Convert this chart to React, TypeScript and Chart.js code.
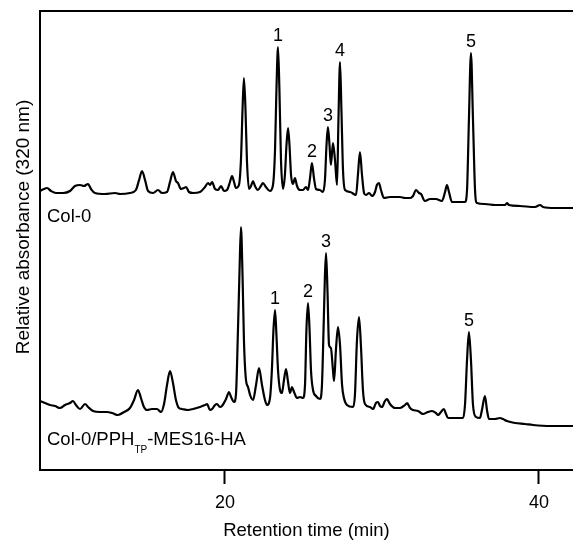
import React, { useEffect, useRef } from 'react';
import { Chart, registerables } from 'chart.js';

Chart.register(...registerables);

// Col-0 trace (retention time, min / relative absorbance, arbitrary units incl. offset)
const colTime = [
  8.22, 8.47, 8.67, 8.92, 9.24, 9.69, 10.13, 10.45, 10.77, 11.02, 11.28, 11.47, 11.72, 12.36, 13.0, 13.32, 13.95,
  14.33, 14.53, 14.72, 14.91, 15.1, 15.42, 15.74, 15.99, 16.31, 16.5, 16.69, 16.88, 17.01, 17.2, 17.39, 17.52, 17.71,
  17.97, 18.41, 18.73, 18.92, 19.05, 19.18, 19.37, 19.56, 19.75, 19.94, 20.13, 20.32, 20.45, 20.58, 20.7, 20.89,
  21.02, 21.12, 21.21, 21.31, 21.4, 21.53, 21.66, 21.79, 21.91, 22.1, 22.29, 22.42, 22.61, 22.87, 23.06, 23.19,
  23.28, 23.38, 23.47, 23.57, 23.7, 23.82, 23.92, 24.02, 24.11, 24.21, 24.33, 24.46, 24.59, 24.78, 24.97, 25.16,
  25.29, 25.42, 25.54, 25.67, 25.8, 26.05, 26.24, 26.37, 26.47, 26.56, 26.66, 26.75, 26.88, 27.01, 27.14, 27.23,
  27.33, 27.42, 27.52, 27.65, 27.97, 28.35, 28.47, 28.6, 28.73, 28.86, 28.98, 29.18, 29.37, 29.56, 29.68, 29.81,
  29.94, 30.13, 30.51, 31.15, 31.47, 31.79, 31.98, 32.17, 32.36, 32.49, 32.74, 33.06, 33.44, 33.82, 34.02, 34.14,
  34.27, 34.46, 34.97, 35.29, 35.42, 35.54, 35.67, 35.8, 35.93, 36.05, 36.56, 37.2, 37.84, 37.96, 38.09, 38.79,
  39.75, 40.07, 40.26, 41.02, 42.17,
];
const colAbs = [
  279, 281, 282, 279, 277, 277, 279, 284, 285, 284, 286, 281, 277, 276, 277, 276, 277,
  280, 290, 299, 290, 279, 277, 280, 277, 278, 288, 298, 289, 287, 281, 282, 283, 278,
  277, 278, 283, 287, 285, 288, 281, 280, 284, 279, 280, 288, 294, 288, 282, 285,
  310, 360, 392, 360, 310, 281, 284, 289, 284, 280, 284, 287, 283, 279, 285, 320,
  380, 423, 380, 310, 281, 295, 325, 342, 325, 295, 286, 292, 284, 280, 280, 283,
  280, 292, 307, 292, 281, 280, 278, 290, 325, 343, 325, 305, 327, 310, 285, 350,
  408, 360, 300, 280, 278, 275, 295, 318, 295, 277, 275, 277, 274, 278, 285, 287,
  280, 272, 273, 273, 272, 272, 274, 280, 277, 276, 269, 271, 271, 269, 278, 285,
  278, 268, 268, 268, 280, 350, 417, 350, 280, 267, 266, 265, 265, 267, 265, 264,
  263, 265, 263, 262, 262,
];

// Col-0/PPH_TP-MES16-HA trace
const mesTime = [
  8.22, 8.54, 8.86, 9.18, 9.49, 9.81, 10.13, 10.32, 10.51, 10.77, 11.09, 11.28, 11.6, 12.04, 12.49, 12.81, 13.19,
  13.57, 13.95, 14.21, 14.46, 14.65, 14.84, 15.04, 15.35, 15.67, 15.93, 16.12, 16.31, 16.5, 16.69, 16.88, 17.07,
  17.26, 17.65, 17.97, 18.41, 18.73, 18.86, 19.05, 19.18, 19.37, 19.49, 19.68, 19.81, 20.07, 20.26, 20.39, 20.58,
  20.7, 20.83, 20.93, 21.02, 21.12, 21.21, 21.34, 21.47, 21.6, 21.79, 21.98, 22.17, 22.36, 22.55, 22.68, 22.87,
  22.99, 23.09, 23.19, 23.28, 23.38, 23.51, 23.63, 23.76, 23.89, 24.02, 24.14, 24.27, 24.4, 24.59, 24.78, 24.97,
  25.1, 25.19, 25.29, 25.39, 25.48, 25.61, 25.8, 26.05, 26.18, 26.28, 26.37, 26.44, 26.53, 26.63, 26.75, 26.88,
  26.95, 27.07, 27.2, 27.33, 27.46, 27.58, 27.77, 28.16, 28.28, 28.41, 28.54, 28.66, 28.79, 28.92, 29.24, 29.43,
  29.62, 29.75, 29.88, 30.0, 30.19, 30.32, 30.51, 30.83, 31.15, 31.47, 31.6, 31.79, 31.98, 32.3, 32.61, 32.93,
  33.19, 33.44, 33.57, 33.76, 33.95, 34.08, 34.21, 34.65, 35.16, 35.29, 35.42, 35.54, 35.67, 35.8, 35.99, 36.24,
  36.37, 36.56, 36.69, 36.82, 37.2, 37.52, 37.71, 37.96, 38.47, 39.11, 39.62, 40.7, 42.17,
];
const mesAbs = [
  69, 67, 65, 64, 62, 65, 67, 69, 65, 61, 66, 63, 59, 58, 58, 57, 55,
  58, 62, 70, 80, 72, 63, 60, 61, 61, 58, 66, 85, 99, 87, 70, 62,
  61, 60, 61, 63, 65, 66, 60, 61, 65, 66, 63, 64, 71, 78, 73, 68,
  75, 140, 200, 243, 195, 130, 90, 83, 75, 70, 85, 102, 85, 70, 65, 72,
  100, 140, 160, 135, 100, 80, 77, 90, 101, 88, 77, 83, 78, 72, 73, 72,
  85, 140, 167, 140, 100, 80, 74, 71, 85, 140, 195, 217, 180, 125, 122, 100,
  89, 120, 143, 125, 85, 72, 65, 63, 75, 130, 153, 125, 80, 66, 63, 61,
  67, 68, 64, 63, 69, 71, 66, 62, 62, 65, 67, 62, 60, 59, 56, 58,
  59, 57, 55, 58, 61, 56, 52, 52, 52, 65, 110, 138, 110, 65, 53, 52,
  60, 74, 60, 51, 51, 52, 51, 49, 47, 46, 45, 44, 44,
];

const xTicks = [20, 40];
const colPeakLabels = ['1', '2', '3', '4', '5'];
const colPeakTimes = [23.38, 25.54, 26.56, 27.33, 35.67];
const mesPeakLabels = ['1', '2', '3', '5'];
const mesPeakTimes = [23.19, 25.29, 26.44, 35.54];

const FONT = '"Liberation Sans", Arial, Helvetica, sans-serif';

export default function App() {
  const ref = useRef<HTMLCanvasElement>(null);

  useEffect(() => {
    if (!ref.current) return;

    const annot = {
      id: 'annot',
      afterDatasetsDraw(chart: any) {
        const { ctx, chartArea, scales } = chart;
        const x = scales.x;
        const y = scales.y;
        ctx.save();
        // top frame line
        ctx.strokeStyle = '#000';
        ctx.lineWidth = 2;
        ctx.beginPath();
        ctx.moveTo(chartArea.left - 1, chartArea.top);
        ctx.lineTo(chartArea.right, chartArea.top);
        ctx.stroke();

        ctx.fillStyle = '#000';
        ctx.font = `18px ${FONT}`;
        ctx.textAlign = 'center';
        ctx.textBaseline = 'alphabetic';
        const drawPeaks = (labels: string[], times: number[], ts: number[], vs: number[]) => {
          labels.forEach((lab, i) => {
            let best = -Infinity;
            ts.forEach((t, j) => {
              if (Math.abs(t - times[i]) <= 0.15 && vs[j] > best) best = vs[j];
            });
            ctx.fillText(lab, x.getPixelForValue(times[i]), y.getPixelForValue(best) - 6);
          });
        };
        drawPeaks(colPeakLabels, colPeakTimes, colTime, colAbs);
        drawPeaks(mesPeakLabels, mesPeakTimes, mesTime, mesAbs);

        // trace names
        ctx.font = `18.5px ${FONT}`;
        ctx.textAlign = 'left';
        const lx = chartArea.left + 7;
        ctx.fillText('Col-0', lx, y.getPixelForValue(248));
        const by = y.getPixelForValue(25);
        const part1 = 'Col-0/PPH';
        ctx.fillText(part1, lx, by);
        let cx = lx + ctx.measureText(part1).width;
        ctx.font = `10px ${FONT}`;
        ctx.fillText('TP', cx, by + 8);
        cx += ctx.measureText('TP').width;
        ctx.font = `18.5px ${FONT}`;
        ctx.fillText('-MES16-HA', cx, by);

        // y axis title
        ctx.font = `19px ${FONT}`;
        ctx.textAlign = 'center';
        ctx.textBaseline = 'middle';
        ctx.translate(24, y.getPixelForValue(243));
        ctx.rotate(-Math.PI / 2);
        ctx.fillText('Relative absorbance (320 nm)', 0, 0);
        ctx.restore();
      },
    };

    const chart = new Chart(ref.current, {
      type: 'line',
      data: {
        datasets: [
          {
            label: 'Col-0',
            data: colTime.map((t, i) => ({ x: t, y: colAbs[i] })),
          },
          {
            label: 'Col-0/PPH-TP-MES16-HA',
            data: mesTime.map((t, i) => ({ x: t, y: mesAbs[i] })),
          },
        ],
      },
      options: {
        animation: false,
        responsive: false,
        maintainAspectRatio: false,
        layout: { padding: { top: 11, right: 0, left: 0, bottom: 0 } },
        plugins: { legend: { display: false }, tooltip: { enabled: false } },
        elements: {
          point: { radius: 0 },
          line: { borderWidth: 2.2, borderColor: '#000', cubicInterpolationMode: 'monotone', fill: false },
        },
        scales: {
          x: {
            type: 'linear',
            min: 8.22,
            max: 42.17,
            afterBuildTicks: (s: any) => {
              s.ticks = xTicks.map((v) => ({ value: v }));
            },
            ticks: { color: '#000', font: { family: FONT, size: 18 }, padding: 8, maxRotation: 0, autoSkip: false },
            grid: {
              display: true,
              drawOnChartArea: false,
              drawTicks: true,
              tickLength: 14,
              tickWidth: 2,
              tickColor: '#000',
            },
            border: { display: true, color: '#000', width: 2 },
            title: {
              display: true,
              text: 'Retention time (min)',
              color: '#000',
              font: { family: FONT, size: 18.5 },
              padding: { top: 0, bottom: 0 },
            },
            afterFit: (s: any) => {
              s.height = 72;
            },
          },
          y: {
            type: 'linear',
            min: 0,
            max: 459,
            ticks: { display: false },
            grid: { display: false, drawTicks: false },
            border: { display: true, color: '#000', width: 2 },
            title: { display: false },
            afterFit: (s: any) => {
              s.width = 40;
            },
          },
        },
      } as any,
      plugins: [annot],
    });

    return () => chart.destroy();
  }, []);

  return (
    <div style={{ position: 'absolute', left: 0, top: 0, width: 573, height: 542 }}>
      <canvas ref={ref} width={573} height={542} style={{ display: 'block' }} />
    </div>
  );
}
